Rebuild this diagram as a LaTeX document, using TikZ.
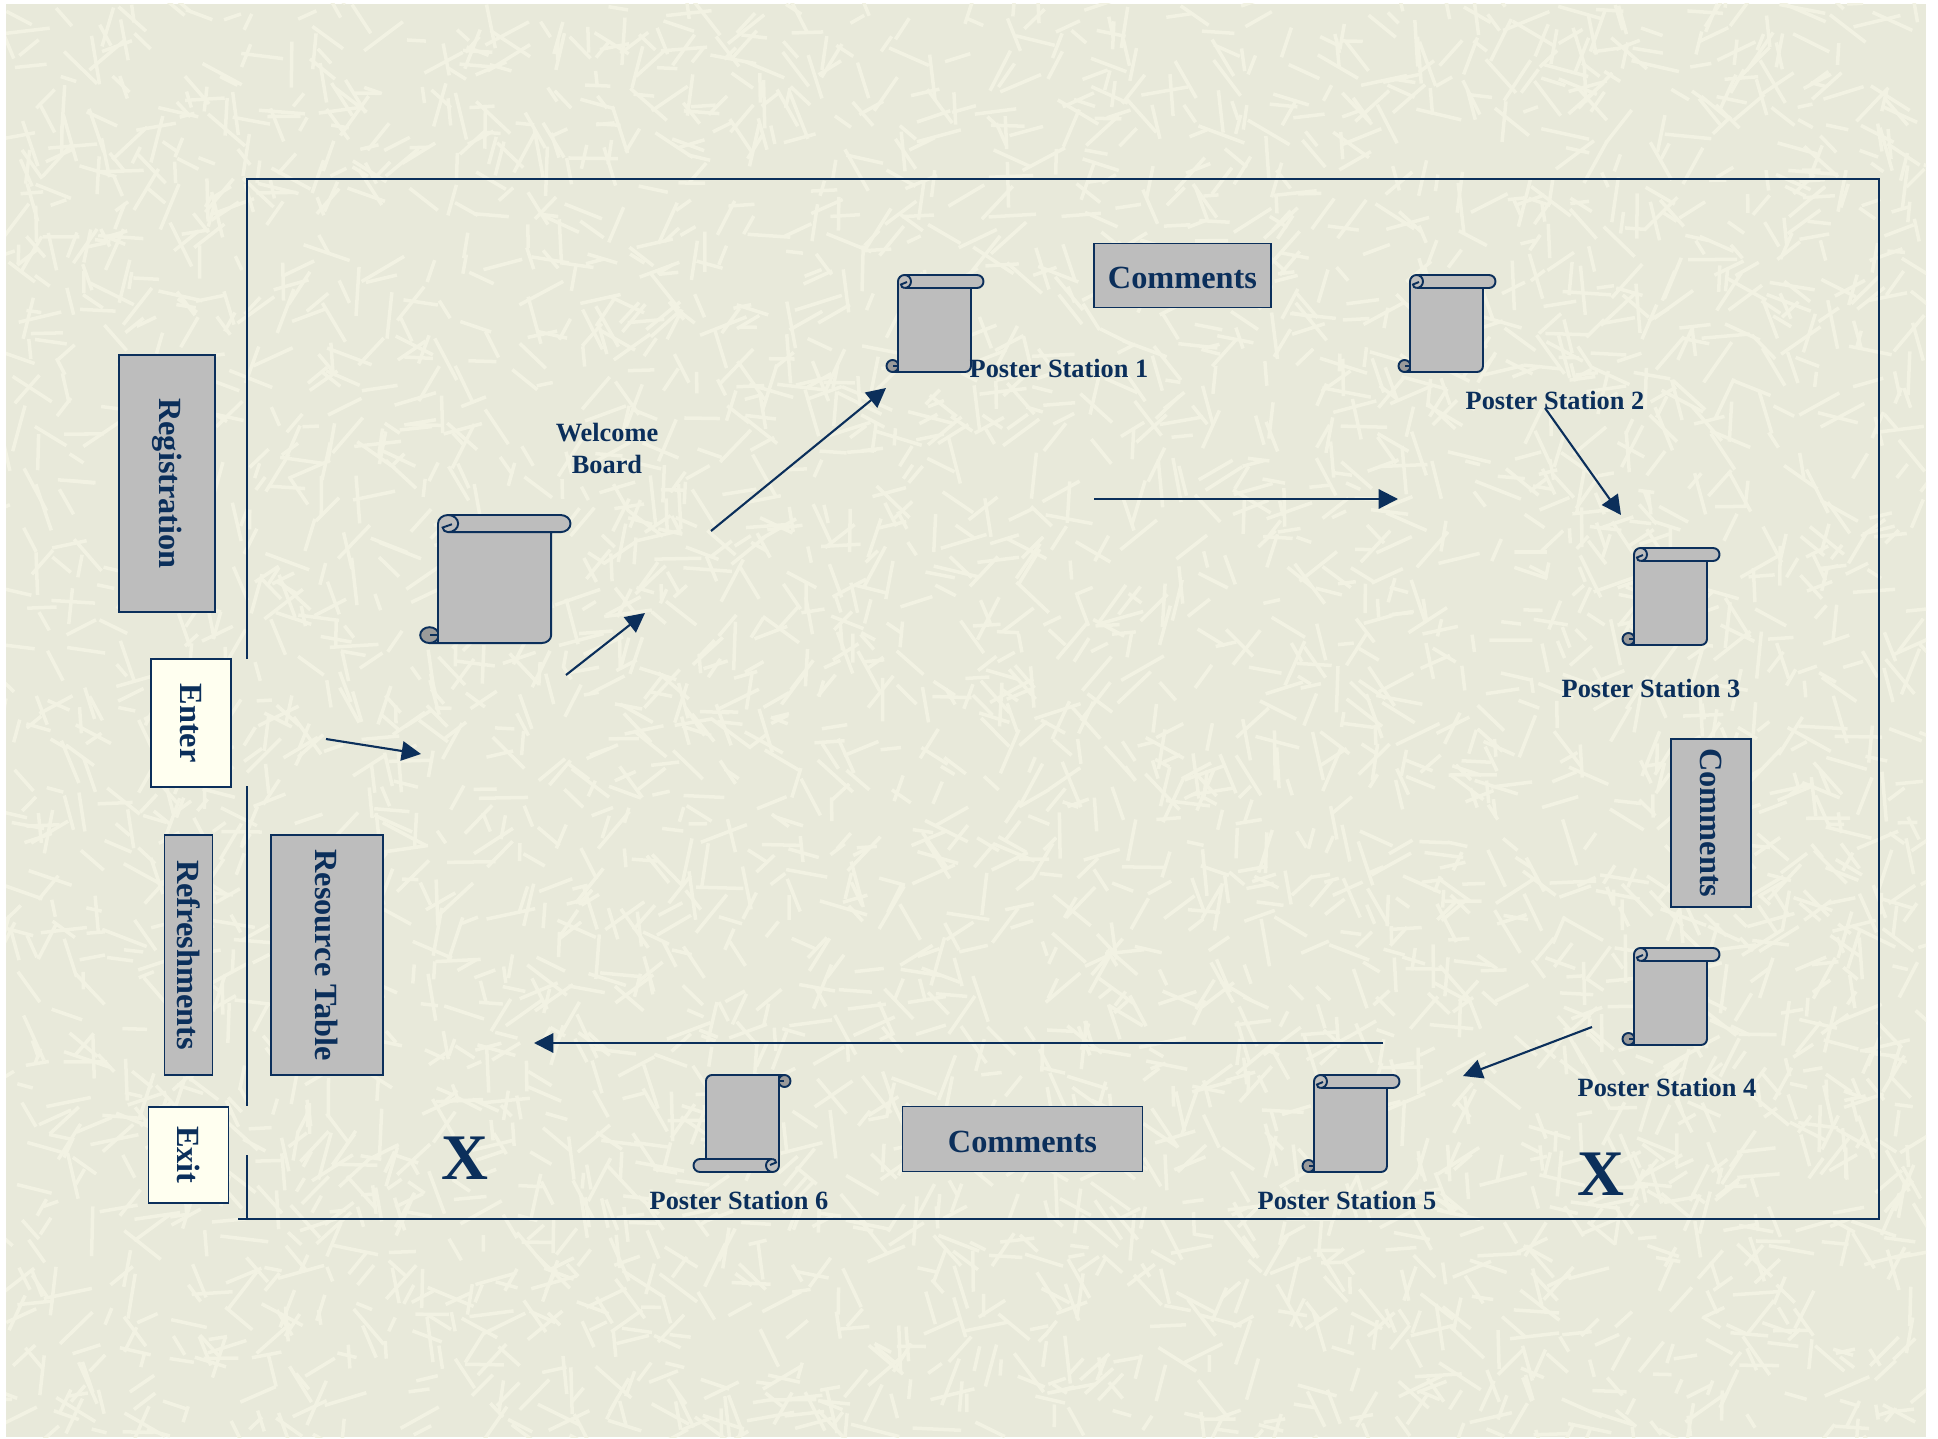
\documentclass[tikz,border=0pt]{standalone}
\usepackage{fontspec}
\setmainfont{Liberation Serif}
\usetikzlibrary{arrows.meta}
\definecolor{navy}{HTML}{0B2F5B}
\definecolor{paper}{HTML}{E8E9DA}
\definecolor{fleck}{HTML}{F2F2E3}
\definecolor{boxgray}{HTML}{BDBDBD}
\definecolor{curlgray}{HTML}{9A9A9A}
\definecolor{cream}{HTML}{FFFFF0}
\tikzset{
  wall/.style = {navy, line width=1.2pt},
  flow/.style = {navy, line width=1.2pt, -{Triangle[length=11pt,width=11pt]}},
  graybox/.style = {draw=navy, fill=boxgray, line width=1.1pt, inner sep=0pt, text=navy, font=\fontsize{18.4}{20}\selectfont\bfseries},
  creambox/.style = {graybox, fill=cream},
  boxsize/.style 2 args = {minimum width=#1*0.02cm, minimum height=#2*0.02cm},
  label/.style = {text=navy, align=center, inner sep=0pt, font=\fontsize{15}{18.2}\selectfont\bfseries},
  bigx/.style = {text=navy, inner sep=0pt, font=\fontsize{37}{37}\selectfont\bfseries},
  scrollpic/.pic = {
    \filldraw[navy, fill=curlgray, line width=1.1pt] (-5.5,-91) circle[radius=6];
    \filldraw[navy, fill=boxgray, line width=1.1pt, line join=round]
      (6.5,0) -- (79,0) arc[start angle=90, end angle=-90, radius=6.5] -- (73,-13) -- (73,-91)
      arc[start angle=0, end angle=-90, radius=6] -- (-5.5,-97) -- (0,-97) -- (0,-6.5)
      arc[start angle=180, end angle=90, radius=6.5] -- cycle;
    \draw[navy, line width=1.1pt] (6.5,0) arc[start angle=90, end angle=-90, radius=6.5] -- (73,-13);
    \draw[navy, line width=1.1pt] (6.5,-13) arc[start angle=-90, end angle=-180, radius=3.5] -- (9,-7);
    \draw[navy, line width=1.1pt] (0,-85) -- (0,-91) -- (-5,-91);
  }
}
\begin{document}
\begin{tikzpicture}[x=0.02cm, y=0.02cm]
\useasboundingbox (0,0) rectangle (1938,-1439);
\fill[paper] (6,-4) rectangle (1926,-1437); % page
\pgfmathsetseed{4711}
\begin{scope} % texture of the page
\clip (6,-4) rectangle (1926,-1437);
\foreach \i in {1,...,4200} {
  \pgfmathsetmacro{\fx}{6+1920*rnd}
  \pgfmathsetmacro{\fy}{-4-1433*rnd}
  \pgfmathsetmacro{\fa}{360*rnd}
  \pgfmathsetmacro{\fl}{15+35*rnd}
  \draw[fleck, line width=2pt] (\fx,\fy) -- ++(\fa:\fl);
}
\end{scope}

% room outline, broken at the doors
\coordinate (wallTL) at (247,-179);
\coordinate (wallTR) at (1879,-179);
\coordinate (wallBR) at (1879,-1219);
\coordinate (wallBL) at (238,-1219);
\coordinate (wallA) at (247,-659);
\coordinate (wallB) at (247,-786);
\coordinate (wallC) at (247,-1106);
\coordinate (wallD) at (247,-1155);
\coordinate (wallE) at (247,-1219);
\draw[wall] (wallA) -- (wallTL) -- (wallTR) -- (wallBR) -- (wallBL);
\draw[wall] (wallB) -- (wallC);
\draw[wall] (wallD) -- (wallE);

% boxes
\node[graybox, boxsize={257}{96}, rotate=-90] (registration) at (167,-483.5) {Registration};
\node[creambox, boxsize={128}{80}, rotate=-90] (enter) at (191,-723) {Enter};
\node[graybox, boxsize={240}{48}, rotate=-90] (refreshments) at (188.5,-955) {Refreshments};
\node[graybox, boxsize={240}{112}, rotate=-90] (resource) at (327,-955) {Resource Table};
\node[creambox, boxsize={96}{80}, rotate=-90] (exit) at (188.5,-1155) {Exit};
\node[graybox, boxsize={177}{64}, text height=15pt] (commentsA) at (1182.5,-275.5) {Comments};
\node[graybox, boxsize={168}{80}, rotate=-90] (commentsB) at (1711,-823) {Comments};
\node[graybox, boxsize={240}{65}, text height=15pt] (commentsC) at (1022.5,-1139) {Comments};

% scrolls
\pic[xscale=1.55, yscale=1.32] at (438,-515) {scrollpic};
\pic at (898,-275) {scrollpic};
\pic at (1410,-275) {scrollpic};
\pic at (1634,-548) {scrollpic};
\pic at (1634,-948) {scrollpic};
\pic at (1314,-1075) {scrollpic};
\pic[rotate=180] at (779,-1172) {scrollpic};

% labels
\node[label] (welcome) at (607,-448) {Welcome\\Board};
\node[label] (station1) at (1059,-368) {Poster Station 1};
\node[label] (station2) at (1555,-400) {Poster Station 2};
\node[label] (station3) at (1651,-688) {Poster Station 3};
\node[label] (station4) at (1667,-1087) {Poster Station 4};
\node[label] (station5) at (1347,-1200) {Poster Station 5};
\node[label] (station6) at (739,-1200) {Poster Station 6};
\node[bigx] (crossA) at (465,-1158) {X};
\node[bigx] (crossB) at (1601,-1174) {X};

% walking route
\coordinate (routeA) at (326,-739);
\coordinate (routeB) at (421,-754);
\coordinate (routeC) at (566,-675);
\coordinate (routeD) at (645,-613);
\coordinate (routeE) at (711,-531);
\coordinate (routeF) at (886,-388);
\coordinate (routeG) at (1094,-499);
\coordinate (routeH) at (1398,-499);
\coordinate (routeI) at (1545,-408);
\coordinate (routeJ) at (1621,-515);
\coordinate (routeK) at (1592,-1027);
\coordinate (routeL) at (1463,-1076);
\coordinate (routeM) at (1383,-1043);
\coordinate (routeN) at (534,-1043);
\draw[flow] (routeA) -- (routeB);
\draw[flow] (routeC) -- (routeD);
\draw[flow] (routeE) -- (routeF);
\draw[flow] (routeG) -- (routeH);
\draw[flow] (routeI) -- (routeJ);
\draw[flow] (routeK) -- (routeL);
\draw[flow] (routeM) -- (routeN);
\end{tikzpicture}
\end{document}
